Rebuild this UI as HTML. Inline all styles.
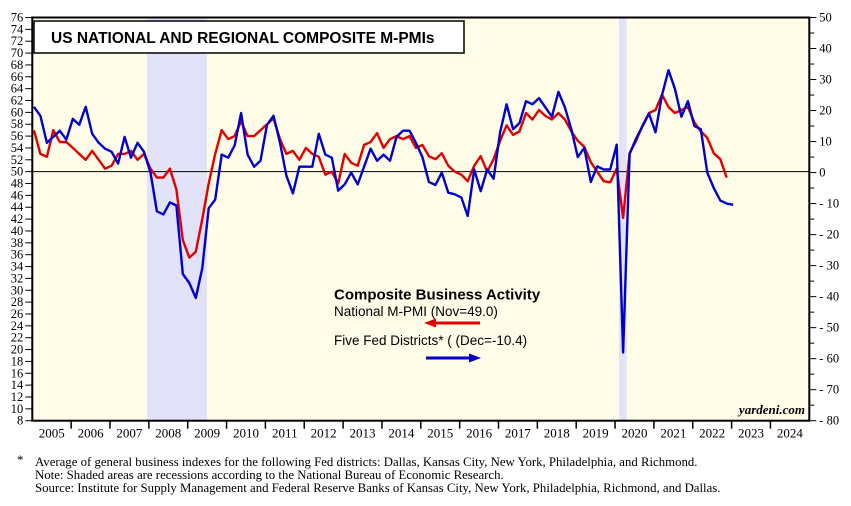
<!DOCTYPE html>
<html><head><meta charset="utf-8"><style>
body{margin:0;background:#fff;}
svg{display:block;font-family:"Liberation Serif",serif;}
</style></head><body>
<svg id="chart" width="851" height="506" viewBox="0 0 851 506">
<rect x="32.3" y="17.5" width="777" height="403.2" fill="#fffde8"/>
<g id="rec"></g>
<g id="axes"></g>
<g id="series"></g>
<rect x="34" y="21" width="430" height="32" fill="#fff" stroke="#000" stroke-width="1.5"/>
<text x="51" y="43" font-family="Liberation Sans, sans-serif" font-weight="bold" font-size="15.5">US NATIONAL AND REGIONAL COMPOSITE M-PMIs</text>
<g font-family="Liberation Sans, sans-serif">
<text x="334" y="299.5" font-weight="bold" font-size="15">Composite Business Activity</text>
<text x="334" y="316" font-size="13.5">National M-PMI (Nov=49.0)</text>
<line x1="432" y1="323" x2="480" y2="323" stroke="#e00000" stroke-width="3"/>
<polygon points="424,323 436,318.5 436,327.5" fill="#e00000"/>
<text x="334" y="345" font-size="13.5">Five Fed Districts* ( (Dec=-10.4)</text>
<line x1="426" y1="358" x2="472" y2="358" stroke="#0000cc" stroke-width="3"/>
<polygon points="481,358 469,353.5 469,362.5" fill="#0000cc"/>
</g>
<text x="805" y="414" text-anchor="end" font-style="italic" font-weight="bold" font-size="13">yardeni.com</text>
<g font-size="12.8">
<text x="17" y="464">*</text>
<text x="35" y="466">Average of general business indexes for the following Fed districts: Dallas, Kansas City, New York, Philadelphia, and Richmond.</text>
<text x="35" y="479">Note: Shaded areas are recessions according to the National Bureau of Economic Research.</text>
<text x="35" y="492">Source: Institute for Supply Management and Federal Reserve Banks of Kansas City, New York, Philadelphia, Richmond, and Dallas.</text>
</g>
</svg>
<script>
const years = [2005,2006,2007,2008,2009,2010,2011,2012,2013,2014,2015,2016,2017,2018,2019,2020,2021,2022,2023,2024];
const leftTicks = [8,10,12,14,16,18,20,22,24,26,28,30,32,34,36,38,40,42,44,46,48,50,52,54,56,58,60,62,64,66,68,70,72,74,76];
const rightTicks = [-80,-70,-60,-50,-40,-30,-20,-10,0,10,20,30,40,50];
const recessions = [[2007.95,2009.5],[2020.1,2020.3]];
// bimonthly values starting Jan 2005
const national = [
57,53,52.5,57,55,55, 54,53,52,53.5,52,50.5, 51,53,53,53.5,52,53,
50.5,49,49,50.5,47,38.5, 35.5,36.5,42,48,53,57, 55.5,56,58.5,56,56,57,
58,59,55.5,53,53.5,52, 54,53,52.5,49.5,50,48, 53,51.5,51,54.5,55,56.5,
54,55.5,56,55.5,56,54, 54.5,52.6,52.1,53.1,51,50, 49.5,48.4,51,52.6,50,52.1,
55.2,57.8,56.2,56.8,59.9,58.8, 60.4,59.4,58.8,59.9,58.8,56.8, 55.2,54.2,51.6,50,48.4,48.2,
50.5,42.2,53.1,55.2,57.8,59.9, 60.4,63,60.9,59.9,60.4,60.9, 58.3,56.8,55.7,53.1,52.1,49.0];
const fedDistricts = [
21.2,18.3,9.6,11.5,13.5,10.6, 17.3,15.4,21.2,12.5,9.6,7.7, 6.7,2.9,11.5,4.8,9.6,6.7,
0,-12.5,-13.5,-9.6,-10.6,-32.7, -35.6,-40.4,-30.8,-11.5,-8.7,5.8, 4.8,8.7,19.2,5.8,1.9,3.8,
15.4,18.3,9.6,-1,-6.7,1.9, 1.9,1.9,12.5,5.8,4.8,-5.8, -3.8,0,-3.8,1.9,7.7,3.8,
5.8,3.8,11.5,13.5,13.5,9.6, 5,-3,-4,0,-6.5,-7, -8,-14,1,-6,1,-2,
13,22,14,16,23,22, 24,21,18,26,21,14, 5,8,-3,2,1,1,
9,-58,6,11,15,19, 13,25,33,27,18,23, 15,14,0,-5,-9,-10,-10.4];

const NS='http://www.w3.org/2000/svg';
const X0=32.3, YW=38.85, TOP=17.5, BOT=420.7;
const xs = t => X0 + (t-2005)*YW;
const yL = v => TOP + (76-v)*(BOT-TOP)/68;
const yR = v => TOP + (50-v)*(BOT-TOP)/130;
const tOf = i => 2005 + (i*2+0.5)/12;
function mk(tag, attrs, parent){const e=document.createElementNS(NS,tag);for(const k in attrs)e.setAttribute(k,attrs[k]);parent.appendChild(e);return e;}
const rec=document.getElementById('rec'), axes=document.getElementById('axes'), ser=document.getElementById('series');
recessions.forEach(r=>{
  const e=mk('rect',{x:xs(r[0]),y:TOP,width:xs(r[1])-xs(r[0]),height:BOT-TOP,fill:'#e2e2f8'},rec);
  
  
});
const z=mk('line',{x1:X0,x2:X0+20*YW,y1:yL(50),y2:yL(50),stroke:'#000','stroke-width':1},axes);


const fr=mk('rect',{x:X0,y:TOP,width:20*YW,height:BOT-TOP,fill:'none',stroke:'#000','stroke-width':2},axes);


leftTicks.forEach(v=>{
  const y=yL(v);
  mk('line',{x1:X0-7,x2:X0,y1:y,y2:y,stroke:'#000','stroke-width':1},axes);
  const t=mk('text',{x:X0-9,y:y+4,'text-anchor':'end','font-size':12.5},axes);
  t.textContent=v;
  
  
});
rightTicks.forEach(v=>{
  const y=yR(v), xr=X0+20*YW;
  mk('line',{x1:xr,x2:xr+7,y1:y,y2:y,stroke:'#000','stroke-width':1},axes);
  if(v<50) mk('line',{x1:xr,x2:xr+5,y1:yR(v+5),y2:yR(v+5),stroke:'#000','stroke-width':1},axes);
  const t=mk('text',{x:xr+10,y:y+4,'font-size':12.5},axes);
  t.textContent=(v<0?'- '+(-v):v);
  
  
});
years.forEach((yr,i)=>{
  const x=xs(yr);
  if(i>0) mk('line',{x1:x,x2:x,y1:BOT,y2:BOT+8,stroke:'#000','stroke-width':1.5},axes);
  const t=mk('text',{x:x+YW/2,y:BOT+17,'text-anchor':'middle','font-size':13},axes);
  t.textContent=yr;
  
  
});
function line(vals, yf, color, name){
  const pts=vals.map((v,i)=>xs(tOf(i)).toFixed(1)+','+yf(v).toFixed(1)).join(' ');
  const p=mk('polyline',{points:pts,fill:'none',stroke:color,'stroke-width':2.4,'stroke-linejoin':'round'},ser);
  
  
}
line(national, yL, '#e00000', 'national-pmi-line');
line(fedDistricts, yR, '#0000cc', 'fed-districts-line');
</script>
</body></html>
